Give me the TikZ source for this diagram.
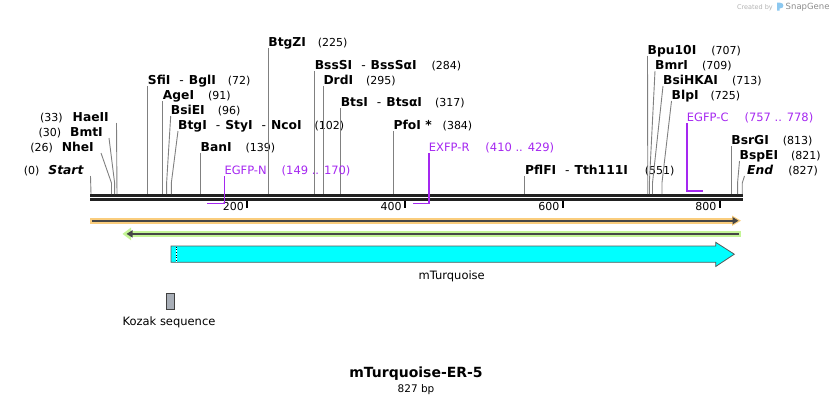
\documentclass[tikz,border=0pt]{standalone}
\usepackage{fontspec}
\setmainfont{DejaVu Sans}
\usetikzlibrary{arrows.meta}
\definecolor{primercol}{RGB}{165,40,240}
\definecolor{bandorange}{RGB}{250,205,125}
\definecolor{bandgreen}{RGB}{196,245,150}
\definecolor{featline}{RGB}{70,70,70}
\definecolor{kozakgray}{RGB}{168,174,183}
\definecolor{snapblue}{RGB}{140,200,240}
\definecolor{turq}{RGB}{0,255,255}
\newcommand\cutnum[1]{{\mdseries\upshape\fontsize{11}{13}\selectfont(#1)}}
\newcommand\sepdash{\hspace{9pt}{\mdseries -}\hspace{5pt}}

\begin{document}
\begin{tikzpicture}[x=1pt,y=-1pt,
    enz/.style={font=\fontsize{12.3}{14}\selectfont\bfseries, inner sep=0pt, text height=9pt, text depth=1.5pt, anchor=south west},
    enzl/.style={enz, anchor=south east},
    enzline/.style={draw=black!50, line width=0.9pt},
    primer/.style={font=\fontsize{11.5}{13}\selectfont, text=primercol, inner sep=0pt, text height=9pt, text depth=1.5pt, anchor=south west},
    primerline/.style={draw=primercol, line width=1.6pt},
    feat/.style={font=\fontsize{11.5}{13}\selectfont, inner sep=0pt}]
  \useasboundingbox (0,0) rectangle (834,404);
  % \helpgrid
  \foreach \n in {0,26,30,33,72,91,96,102,139,225,284,295,317,384,551,707,709,713,725,813,821,827}
    \coordinate (p\n) at ({91+\n*0.7875},194);
  \coordinate (n149) at (207.3,203.3);
  \coordinate (n170) at (224.3,203.3);
  \coordinate (r410) at (413.3,203.3);
  \coordinate (r429) at (428.7,203.3);
  \coordinate (c757) at (686.7,191);
  \coordinate (c778) at (702.7,191);

  % sequence and scale
  \draw[line width=3pt, black!87] (90,195.5) -- (743,195.5);
  \draw[line width=3pt, black!87] (90,199.5) -- (743,199.5);
  \foreach \t/\x in {200/247,400/404.8,600/562.5,800/719.5} {
    \draw[line width=2pt] (\x,200.5) -- (\x,207.7);
    \node[font=\fontsize{11}{13}\selectfont, inner sep=0pt, anchor=east] (tick\t) at (\x-3,206.7) {\t};
  }

  % sites left of the line
  \node[enzl] (start) at (84,176) {\cutnum{0}\hspace{9pt}\textit{Start}};
  \draw[enzline] (start.south east) ++(6.5,0) -- (p0);
  \node[enzl] (nhei) at (94,153) {\cutnum{26}\hspace{9pt}NheI};
  \draw[enzline] (nhei.south east) ++(7,0) -- ([yshift=11pt]p26) -- (p26);
  \node[enzl] (bmti) at (103,138) {\cutnum{30}\hspace{9pt}BmtI};
  \draw[enzline] (bmti.south east) ++(6,0) -- ([yshift=11pt]p30) -- (p30);
  \node[enzl] (haeii) at (109,123) {\cutnum{33}\hspace{10pt}HaeII};
  \draw[enzline] (haeii.south east) ++(7.5,0) -- (p33);

  % sites right of the line
  \node[enz] (sfii) at (p72 |- 0,86) {SfiI\sepdash BglI\hspace{12pt}\cutnum{72}};
  \draw[enzline] (sfii.south west) -- (p72);
  \node[enz] (agei) at (p91 |- 0,101) {AgeI\hspace{14pt}\cutnum{91}};
  \draw[enzline] (agei.south west) -- (p91);
  \node[enz] (bsiei) at (170.7,116) {BsiEI\hspace{13pt}\cutnum{96}};
  \draw[enzline] (bsiei.south west) -- ([yshift=11pt]p96) -- (p96);
  \node[enz] (btgi) at (178,131) {BtgI\sepdash StyI\sepdash NcoI\hspace{13pt}\cutnum{102}};
  \draw[enzline] (btgi.south west) -- ([yshift=11pt]p102) -- (p102);
  \node[enz] (bani) at (p139 |- 0,153) {BanI\hspace{14pt}\cutnum{139}};
  \draw[enzline] (bani.south west) -- (p139);
  \node[enz] (btgzi) at (p225 |- 0,48) {BtgZI\hspace{12pt}\cutnum{225}};
  \draw[enzline] (btgzi.south west) -- (p225);
  \node[enz] (bsssi) at (p284 |- 0,71) {BssSI\sepdash BssSαI\hspace{15pt}\cutnum{284}};
  \draw[enzline] (bsssi.south west) -- (p284);
  \node[enz] (drdi) at (p295 |- 0,86) {DrdI\hspace{13pt}\cutnum{295}};
  \draw[enzline] (drdi.south west) -- (p295);
  \node[enz] (btsi) at (p317 |- 0,108) {BtsI\sepdash BtsαI\hspace{13pt}\cutnum{317}};
  \draw[enzline] (btsi.south west) -- (p317);
  \node[enz] (pfoi) at (p384 |- 0,131) {PfoI *\hspace{11pt}\cutnum{384}};
  \draw[enzline] (pfoi.south west) -- (p384);
  \node[enz] (pflfi) at (p551 |- 0,176) {PflFI\sepdash Tth111I\hspace{17pt}\cutnum{551}};
  \draw[enzline] (pflfi.south west) -- (p551);
  \node[enz] (bpu10i) at (647.5,56) {Bpu10I\hspace{15pt}\cutnum{707}};
  \draw[enzline] (bpu10i.south west) -- ([yshift=11pt]p707) -- (p707);
  \node[enz] (bmri) at (655,71) {BmrI\hspace{14pt}\cutnum{709}};
  \draw[enzline] (bmri.south west) -- ([yshift=11pt]p709) -- (p709);
  \node[enz] (bsihkai) at (663,86) {BsiHKAI\hspace{14pt}\cutnum{713}};
  \draw[enzline] (bsihkai.south west) -- ([yshift=11pt]p713) -- (p713);
  \node[enz] (blpi) at (671.5,101) {BlpI\hspace{12pt}\cutnum{725}};
  \draw[enzline] (blpi.south west) -- ([yshift=11pt]p725) -- (p725);
  \node[enz] (bsrgi) at (p813 |- 0,146) {BsrGI\hspace{14pt}\cutnum{813}};
  \draw[enzline] (bsrgi.south west) -- (p813);
  \node[enz] (bspei) at (739.5,161) {BspEI\hspace{13pt}\cutnum{821}};
  \draw[enzline] (bspei.south west) -- ([yshift=11pt]p821) -- (p821);
  \node[enz] (endsite) at (747,176) {\textit{End}\hspace{15pt}\cutnum{827}};
  \draw[enzline] (endsite.south west) ++(-2.5,0) -- ([yshift=11pt]p827) -- (p827);

  % primers
  \node[primer] (egfpn) at (n170 |- 0,176) {EGFP-N\hspace{15pt}(149 .. 170)};
  \draw[primerline] (egfpn.south west) -- (n170) -- (n149);
  \node[primer] (exfpr) at (r429 |- 0,153) {EXFP-R\hspace{16pt}(410 .. 429)};
  \draw[primerline] (exfpr.south west) -- (r429) -- (r410);
  \node[primer] (egfpc) at (c757 |- 0,123) {EGFP-C\hspace{16pt}(757 .. 778)};
  \draw[primerline] (egfpc.south west) -- (c757) -- (c778);

  % features
  \fill[bandorange] (90,217.7) rectangle (733,223.7);
  \fill[bandorange] (732,215.5) -- (741,220.7) -- (732,225.9) -- cycle;
  \draw[featline, line width=2pt, -{Triangle[length=6pt,width=7pt]}] (92,220.7) -- (738.5,220.7);
  \fill[bandgreen] (130,231) rectangle (741,236.7);
  \fill[bandgreen] (131,227.5) -- (122.5,233.9) -- (131,240.3) -- cycle;
  \draw[featline, line width=2pt, {Triangle[length=6pt,width=7pt]}-] (126.5,233.9) -- (738.7,233.9);

  \draw[draw=black!65, fill=turq, line width=0.8pt] (171,246) -- (715.7,246) -- (715.7,242.3) -- (734.3,254.2) -- (715.7,266.5) -- (715.7,262.3) -- (171,262.3) -- cycle;
  \draw[white, line width=1pt] (176.3,246.6) -- (176.3,261.7);
  \draw[black, dotted, line width=0.7pt] (176.3,246.6) -- (176.3,261.7);
  \node[feat] (mturq) at (451.7,276) {mTurquoise};

  \draw[fill=kozakgray, draw=black!75, line width=0.8pt] (166.3,293) rectangle (174.5,309.7);
  \node[feat] (kozak) at (169,322.7) {Kozak sequence};

  % title
  \node[font=\fontsize{14}{16}\selectfont\bfseries, inner sep=0pt] (title) at (416,373.3) {mTurquoise-ER-5};
  \node[font=\fontsize{10.5}{12}\selectfont, inner sep=0pt] (length) at (416,389.3) {827 bp};

  % watermark
  \node[font=\fontsize{6.5}{8}\selectfont, text=black!30, inner sep=0pt, anchor=east] (created) at (773,7.5) {Created by};
  \fill[snapblue] (777,2.7) -- (780,2.7) .. controls (784.5,2.7) and (784.5,8.5) .. (780,8.5) -- (779.5,8.5) -- (779.5,10.7) -- (777,10.7) -- cycle;
  \node[font=\fontsize{8.5}{10}\selectfont, text=black!45, inner sep=0pt, anchor=west] (snapgene) at (785.5,7.2) {SnapGene};
\end{tikzpicture}
\end{document}
